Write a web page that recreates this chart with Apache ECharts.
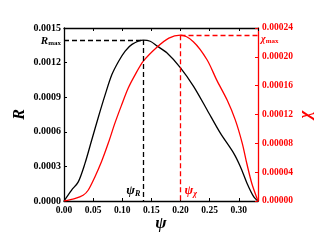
<!DOCTYPE html>
<html>
<head>
<meta charset="utf-8">
<script src="https://cdn.jsdelivr.net/npm/echarts@6/dist/echarts.min.js"></script>
<style>html,body{margin:0;padding:0;background:#fff}#c{width:322px;height:247px}</style>
</head>
<body>
<div id="c"></div>
<script>
// ψ values and R values (left axis)
const psiR_x = [0, 0.0128, 0.0245, 0.036, 0.0476, 0.0593, 0.0707, 0.0822, 0.0938, 0.105, 0.1167, 0.136, 0.148, 0.16, 0.1765, 0.2, 0.2224, 0.2455, 0.2684, 0.2914, 0.3028, 0.3143, 0.3258, 0.333];
const R_vals = [0, 0.000093, 0.000166, 0.000326, 0.000529, 0.000733, 0.000922, 0.001096, 0.001212, 0.0013, 0.001358, 0.001395, 0.001385, 0.001343, 0.001285, 0.001155, 0.000994, 0.000791, 0.000588, 0.000413, 0.000297, 0.000152, 0.000035, 0];
// ψ values and χ values (right axis)
const psiChi_x = [0, 0.0183, 0.0328, 0.0414, 0.053, 0.0643, 0.0759, 0.0874, 0.0988, 0.1103, 0.122, 0.1362, 0.159, 0.18, 0.2, 0.222, 0.2455, 0.262, 0.28, 0.294, 0.306, 0.3138, 0.3224, 0.333];
const chi_vals = [0, 0.0000033, 0.0000079, 0.0000149, 0.0000334, 0.0000544, 0.00008, 0.000108, 0.000133, 0.0001567, 0.000175, 0.000194, 0.000213, 0.000226, 0.00023, 0.000221, 0.000196, 0.000168, 0.00014, 0.0001125, 0.00008, 0.000052, 0.0000243, 0];
// peaks
const psiR = 0.136, Rmax = 0.001395;
const psiChi = 0.2, chiMax = 0.00023;
// axes
const xMin = 0, xMax = 0.333, xStep = 0.05;
const RMin = 0, RMaxAxis = 0.0015, RStep = 0.0003;
const chiMin = 0, chiMaxAxis = 0.00024, chiStep = 0.00004;

const serif = '"Liberation Serif", "DejaVu Serif", serif';
const RED = '#ff0000';
const lbl = (color) => ({fontFamily: serif, fontWeight: 'bold', fontSize: 9.5, color: color});

const chart = echarts.init(document.getElementById('c'), null, {renderer: 'canvas'});
chart.setOption({
  animation: false,
  backgroundColor: '#fff',
  grid: {left: 64, right: 64, top: 28, bottom: 46, containLabel: false, outerBoundsMode: 'none'},
  xAxis: [{
    type: 'value', min: xMin, max: xMax, interval: xStep, position: 'bottom',
    name: 'ψ', nameLocation: 'middle', nameGap: 14, nameMoveOverlap: false,
    nameTextStyle: {fontFamily: serif, fontStyle: 'italic', fontWeight: 'bold', fontSize: 17, color: '#000'},
    axisLine: {onZero: false, lineStyle: {color: '#000', width: 1.3}},
    axisTick: {inside: true, length: 3, lineStyle: {color: '#000', width: 1}},
    axisLabel: Object.assign(lbl('#000'), {margin: 5, showMaxLabel: false, formatter: v => v.toFixed(2)}),
    splitLine: {show: false}
  }, {
    type: 'value', min: xMin, max: xMax, interval: xStep, position: 'top',
    axisLine: {onZero: false, lineStyle: {color: '#000', width: 1.3}},
    axisTick: {inside: true, length: 3, lineStyle: {color: '#000', width: 1}},
    axisLabel: {show: false}, splitLine: {show: false}
  }],
  yAxis: [{
    type: 'value', min: RMin, max: RMaxAxis, interval: RStep, position: 'left',
    name: 'R', nameLocation: 'middle', nameGap: 36, nameMoveOverlap: false,
    nameTextStyle: {fontFamily: serif, fontStyle: 'italic', fontWeight: 'bold', fontSize: 16, color: '#000'},
    axisLine: {show: true, onZero: false, lineStyle: {color: '#000', width: 1.3}},
    axisTick: {show: true, inside: true, length: 3, lineStyle: {color: '#000', width: 1}},
    axisLabel: Object.assign(lbl('#000'), {margin: 3, fontSize: 10, formatter: v => v.toFixed(4)}),
    splitLine: {show: false}
  }, {
    type: 'value', min: chiMin, max: chiMaxAxis, interval: chiStep, position: 'right',
    name: 'χ', nameLocation: 'middle', nameGap: 39, nameMoveOverlap: false,
    nameTextStyle: {fontFamily: serif, fontStyle: 'italic', fontWeight: 'bold', fontSize: 17, color: RED},
    axisLine: {show: true, onZero: false, lineStyle: {color: RED, width: 1.3}},
    axisTick: {show: true, inside: true, length: 3, lineStyle: {color: RED, width: 1}},
    axisLabel: Object.assign(lbl(RED), {margin: 4, formatter: v => v.toFixed(5)}),
    splitLine: {show: false}
  }],
  series: [{
    type: 'line', xAxisIndex: 0, yAxisIndex: 0,
    data: psiR_x.map((x, i) => [x, R_vals[i]]),
    smooth: 0.3, showSymbol: false, symbol: 'none',
    lineStyle: {color: '#000', width: 1.3}, itemStyle: {color: '#000'},
    markLine: {
      silent: true, symbol: 'none', label: {show: false},
      lineStyle: {color: '#000', type: [5, 3], width: 1.3},
      data: [
        [{coord: [xMin, Rmax]}, {coord: [psiR, Rmax]}],
        [{coord: [psiR, Rmax]}, {coord: [psiR, RMin]}]
      ]
    },
    markPoint: {
      silent: true, symbol: 'circle', symbolSize: 0,
      data: [
        {coord: [xMin, Rmax], label: {show: true, position: 'left', distance: 3, offset: [0, 1],
          formatter: '{i|R}{s|max}',
          rich: {i: {fontFamily: serif, fontStyle: 'italic', fontWeight: 'bold', fontSize: 11, color: '#000'},
                 s: {fontFamily: serif, fontWeight: 'bold', fontSize: 7, color: '#000', padding: [5, 0, 0, 0]}}}},
        {coord: [psiR, RMin], label: {show: true, position: 'left', distance: 3, offset: [0, -10],
          formatter: '{g|ψ}{s|R}',
          rich: {g: {fontFamily: serif, fontStyle: 'italic', fontWeight: 'bold', fontSize: 13, color: '#000'},
                 s: {fontFamily: serif, fontStyle: 'italic', fontWeight: 'bold', fontSize: 8, color: '#000', padding: [6, 0, 0, 0]}}}}
      ]
    }
  }, {
    type: 'line', xAxisIndex: 0, yAxisIndex: 1,
    data: psiChi_x.map((x, i) => [x, chi_vals[i]]),
    smooth: 0.3, showSymbol: false, symbol: 'none',
    lineStyle: {color: RED, width: 1.3}, itemStyle: {color: RED},
    markLine: {
      silent: true, symbol: 'none', label: {show: false},
      lineStyle: {color: RED, type: [5, 3], width: 1.3},
      data: [
        [{coord: [psiChi, chiMax]}, {coord: [xMax, chiMax]}],
        [{coord: [psiChi, chiMax]}, {coord: [psiChi, chiMin]}]
      ]
    },
    markPoint: {
      silent: true, symbol: 'circle', symbolSize: 0,
      data: [
        {coord: [xMax, chiMax], label: {show: true, position: 'right', distance: 3, offset: [0, 4],
          formatter: '{i|χ}{s|max}',
          rich: {i: {fontFamily: serif, fontStyle: 'italic', fontWeight: 'bold', fontSize: 10, color: RED},
                 s: {fontFamily: serif, fontWeight: 'bold', fontSize: 7, color: RED, padding: [4, 0, 0, 0]}}}},
        {coord: [psiChi, chiMin], label: {show: true, position: 'right', distance: 4, offset: [0, -10],
          formatter: '{g|ψ}{s|χ}',
          rich: {g: {fontFamily: serif, fontStyle: 'italic', fontWeight: 'bold', fontSize: 13, color: RED},
                 s: {fontFamily: serif, fontStyle: 'italic', fontWeight: 'bold', fontSize: 8, color: RED, padding: [6, 0, 0, 0]}}}}
      ]
    }
  }]
});
</script>
</body>
</html>
